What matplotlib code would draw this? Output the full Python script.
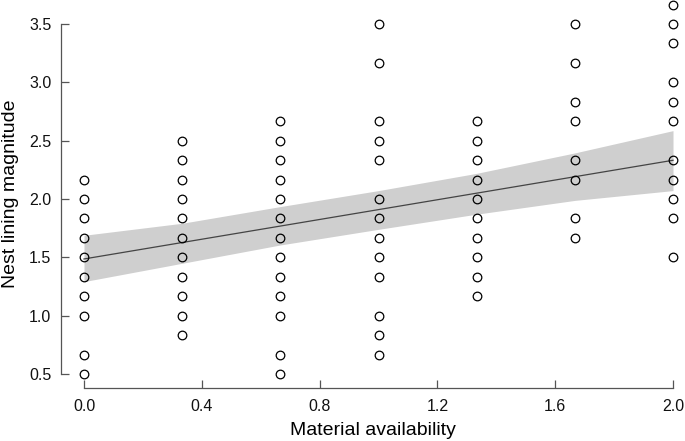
import numpy as np
import matplotlib
matplotlib.use('Agg')
from matplotlib import pyplot as plt

plt.rcParams['font.family'] = ['Liberation Sans', 'DejaVu Sans']

# observed nest lining magnitudes per material availability level
level_x = [0.0, 1/3, 2/3, 1.0, 4/3, 5/3, 2.0]
level_y = [
    [2.167, 2.0, 1.833, 1.667, 1.5, 1.333, 1.167, 1.0, 0.667, 0.5],
    [2.5, 2.333, 2.167, 2.0, 1.833, 1.667, 1.5, 1.333, 1.167, 1.0, 0.833],
    [2.667, 2.5, 2.333, 2.167, 2.0, 1.833, 1.667, 1.5, 1.333, 1.167, 1.0, 0.667, 0.5],
    [3.5, 3.167, 2.667, 2.5, 2.333, 2.0, 1.833, 1.667, 1.5, 1.333, 1.0, 0.833, 0.667],
    [2.667, 2.5, 2.333, 2.167, 2.0, 1.833, 1.667, 1.5, 1.333, 1.167],
    [3.5, 3.167, 2.833, 2.667, 2.333, 2.167, 1.833, 1.667],
    [3.667, 3.5, 3.333, 3.0, 2.833, 2.667, 2.333, 2.167, 2.0, 1.833, 1.5],
]

# fitted line and confidence band
fit_x = [0.0, 1/3, 2/3, 1.0, 4/3, 5/3, 2.0]
fit_y = [1.486, 1.627, 1.768, 1.909, 2.050, 2.191, 2.332]
band_hi = [1.689, 1.792, 1.935, 2.072, 2.220, 2.395, 2.586]
band_lo = [1.292, 1.449, 1.606, 1.740, 1.870, 1.988, 2.072]

xs, ys = [], []
for x, vals in zip(level_x, level_y):
    xs.extend([x] * len(vals))
    ys.extend(vals)

fig = plt.figure(figsize=(6.85, 4.41), dpi=100)
ax = fig.add_axes([61/685, 1 - 388/441, 1 - 61/685, 388/441])

ax.fill_between(fit_x, band_lo, band_hi, color='#cfcfcf', linewidth=0, zorder=1)
ax.plot(fit_x, fit_y, color='#444444', linewidth=0.9, zorder=2)
ax.plot(xs, ys, linestyle='', marker='o', markersize=6.2, markerfacecolor='none',
        markeredgecolor='black', markeredgewidth=0.9, zorder=3, clip_on=False)

ax.set_xlim(-0.0781, 2.0407)
ax.set_ylim(0.38, 3.7057)

for s in ['top', 'right']:
    ax.spines[s].set_visible(False)
for s in ['left', 'bottom']:
    ax.spines[s].set_color('#555555')
    ax.spines[s].set_linewidth(0.9)
ax.spines['left'].set_bounds(0.5, 3.5)
ax.spines['bottom'].set_bounds(0.0, 2.0)

ax.set_xticks([0.0, 0.4, 0.8, 1.2, 1.6, 2.0])
ax.set_xticklabels(['0.0', '0.4', '0.8', '1.2', '1.6', '2.0'])
ax.set_yticks([0.5, 1.0, 1.5, 2.0, 2.5, 3.0, 3.5])
ax.set_yticklabels(['0.5', '1.0', '1.5', '2.0', '2.5', '3.0', '3.5'])
ax.tick_params(axis='both', direction='in', length=6, width=0.9, color='#555555',
               labelsize=11.5, labelcolor='#111111')
ax.tick_params(axis='y', pad=7)
ax.tick_params(axis='x', pad=8)

ax.set_xlabel('Material availability', fontsize=14, labelpad=6)
ax.set_ylabel('Nest lining magnitude', fontsize=14, labelpad=7)

fig.savefig('out.png', dpi=100)
